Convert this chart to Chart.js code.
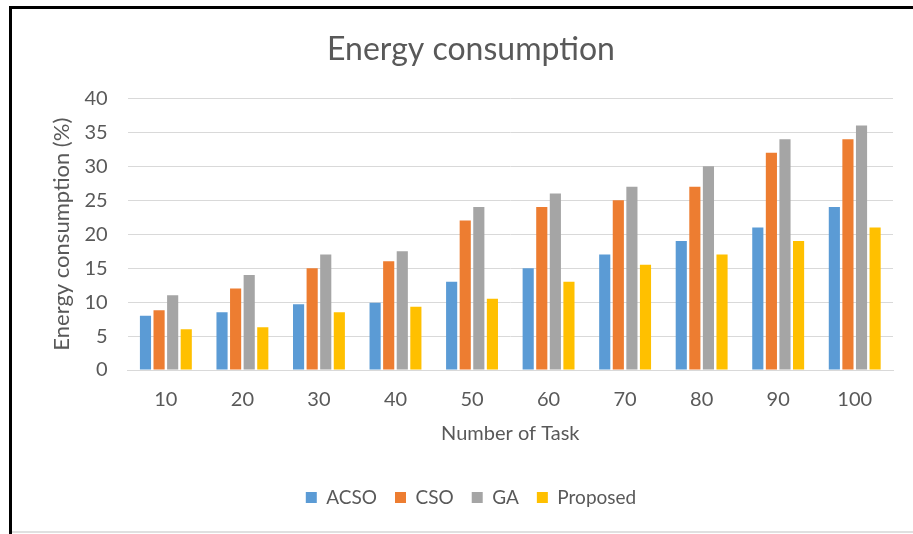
<!DOCTYPE html>
<html>
<head>
<meta charset="utf-8">
<script src="https://cdn.jsdelivr.net/npm/chart.js@4"></script>
<style>
  html, body { margin: 0; padding: 0; background: #fff; }
  #wrap { width: 913px; height: 534px; }
</style>
</head>
<body>
<div id="wrap"><canvas id="energyChart" width="913" height="534"></canvas></div>
<script>
// Data
const tasks = ['10', '20', '30', '40', '50', '60', '70', '80', '90', '100'];
const acso = [8, 8.5, 9.7, 9.9, 13, 15, 17, 19, 21, 24];
const cso = [8.8, 12, 15, 16, 22, 24, 25, 27, 32, 34];
const ga = [11, 14, 17, 17.5, 24, 26, 27, 30, 34, 36];
const proposed = [6, 6.3, 8.5, 9.3, 10.5, 13, 15.5, 17, 19, 21];

const textGrey = '#595959';
const fontName = 'Lato, "Open Sans", sans-serif';

// black frame around the picture like the screenshot
const framePlugin = {
  id: 'frame',
  afterDraw(chart) {
    const c = chart.ctx;
    c.save();
    c.fillStyle = '#000';
    c.fillRect(9, 6, 904, 3);
    c.fillRect(9, 6, 3, 528);
    c.fillStyle = '#e0e0e0';
    c.fillRect(12, 531, 901, 2);
    c.restore();
  }
};

const ctx = document.getElementById('energyChart').getContext('2d');
new Chart(ctx, {
  type: 'bar',
  data: {
    labels: tasks,
    datasets: [
      { label: 'ACSO', data: acso, backgroundColor: '#5B9BD5' },
      { label: 'CSO', data: cso, backgroundColor: '#ED7D31' },
      { label: 'GA', data: ga, backgroundColor: '#A5A5A5' },
      { label: 'Proposed', data: proposed, backgroundColor: '#FFC000' }
    ]
  },
  options: {
    responsive: false,
    animation: false,
    layout: { padding: { left: 49, right: 20, top: 30, bottom: 17 } },
    datasets: {
      bar: { categoryPercentage: 0.71, barPercentage: 0.82 }
    },
    plugins: {
      title: {
        display: true,
        text: 'Energy consumption',
        color: textGrey,
        font: { family: fontName, size: 32, weight: 'normal' },
        padding: { top: 0, bottom: 30 }
      },
      legend: {
        position: 'bottom',
        labels: {
          color: textGrey,
          font: { family: fontName, size: 19 },
          boxWidth: 11,
          boxHeight: 11,
          padding: 18
        }
      },
      tooltip: { enabled: false }
    },
    scales: {
      x: {
        grid: { display: false },
        border: { color: '#D9D9D9', width: 1 },
        ticks: { color: textGrey, font: { family: fontName, size: 20 }, padding: 10 },
        title: {
          display: true,
          text: 'Number of Task',
          color: textGrey,
          font: { family: fontName, size: 20 },
          padding: { top: 0, bottom: 24 }
        }
      },
      y: {
        min: 0,
        max: 40,
        ticks: { stepSize: 5, color: textGrey, font: { family: fontName, size: 20 }, padding: 20 },
        grid: { color: '#D9D9D9', drawTicks: false },
        border: { display: false },
        title: {
          display: true,
          text: 'Energy consumption (%)',
          color: textGrey,
          font: { family: fontName, size: 22 },
          padding: { top: 0, bottom: -11 }
        }
      }
    }
  },
  plugins: [framePlugin]
});
</script>
</body>
</html>
